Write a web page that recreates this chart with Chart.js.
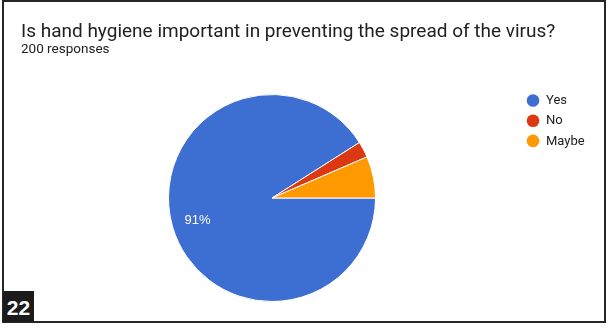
<!DOCTYPE html>
<html>
<head>
<meta charset="utf-8">
<script src="https://cdn.jsdelivr.net/npm/chart.js@4"></script>
<style>
  html, body { margin: 0; padding: 0; background: #fff; }
  body { width: 613px; height: 328px; position: relative; overflow: hidden; }
  #frame { position: absolute; left: 2px; top: 0px; width: 600px; height: 319px; border: 2px solid #262626; box-sizing: content-box; }
  #title { position: absolute; left: 21px; top: 19px; font-family: Roboto, "Noto Sans", sans-serif; font-size: 19px; color: #202124; white-space: nowrap; }
  #subtitle { position: absolute; left: 21px; top: 40px; font-family: Roboto, "Noto Sans", sans-serif; font-size: 13.5px; color: #202124; white-space: nowrap; }
  #badge { position: absolute; left: 3px; top: 291px; width: 31px; height: 31px; background: #1c1a1a; color: #fff; font-family: "Liberation Sans", Arial, sans-serif; font-weight: bold; font-size: 21px; line-height: 33px; text-align: center; }
  #c { position: absolute; left: 0; top: 0; }
</style>
</head>
<body>
<div id="frame"></div>
<canvas id="c" width="613" height="328"></canvas>
<div id="title">Is hand hygiene important in preventing the spread of the virus?</div>
<div id="subtitle">200 responses</div>
<div id="badge">22</div>
<script>
const categories = ["Yes", "No", "Maybe"];
const responses = [182, 5, 13];
const sliceColors = ["#3d6ed1", "#dc3912", "#ff9900"];
const totalResponses = 200;

const sliceLabelPlugin = {
  id: 'sliceLabels',
  afterDatasetsDraw(chart) {
    const ctx = chart.ctx;
    const meta = chart.getDatasetMeta(0);
    const data = chart.data.datasets[0].data;
    const total = data.reduce((a, b) => a + b, 0);
    ctx.save();
    ctx.fillStyle = '#ffffff';
    ctx.font = '13px "Liberation Sans", Arial, sans-serif';
    ctx.textAlign = 'center';
    ctx.textBaseline = 'middle';
    meta.data.forEach((arc, i) => {
      const pct = data[i] / total * 100;
      if (pct < 10) return;
      const p = arc.getProps(['x', 'y', 'startAngle', 'endAngle', 'outerRadius'], true);
      const mid = (p.startAngle + p.endAngle) / 2;
      const r = p.outerRadius * 0.75;
      ctx.fillText(Math.round(pct) + '%', p.x + Math.cos(mid) * r, p.y + Math.sin(mid) * r + 0.5);
    });
    ctx.restore();
  }
};

const legendPlugin = {
  id: 'sideLegend',
  afterDraw(chart) {
    const ctx = chart.ctx;
    const labels = chart.data.labels;
    const colors = chart.data.datasets[0].backgroundColor;
    ctx.save();
    ctx.font = '13px Roboto, "Noto Sans", sans-serif';
    ctx.textBaseline = 'middle';
    labels.forEach((lab, i) => {
      const y = 100.5 + i * 20.2;
      ctx.beginPath();
      ctx.arc(533, y, 6.3, 0, Math.PI * 2);
      ctx.fillStyle = colors[i];
      ctx.fill();
      ctx.fillStyle = '#222222';
      ctx.fillText(lab, 546, y + 0.5);
    });
    ctx.restore();
  }
};

new Chart(document.getElementById('c'), {
  type: 'pie',
  data: {
    labels: categories,
    datasets: [{
      data: responses,
      backgroundColor: sliceColors,
      borderColor: '#ffffff',
      borderWidth: 1
    }]
  },
  options: {
    responsive: false,
    animation: false,
    rotation: 90,
    layout: { padding: { left: 168, right: 237, top: 94, bottom: 26 } },
    plugins: {
      legend: { display: false },
      tooltip: { enabled: false }
    }
  },
  plugins: [sliceLabelPlugin, legendPlugin]
});
</script>
</body>
</html>
